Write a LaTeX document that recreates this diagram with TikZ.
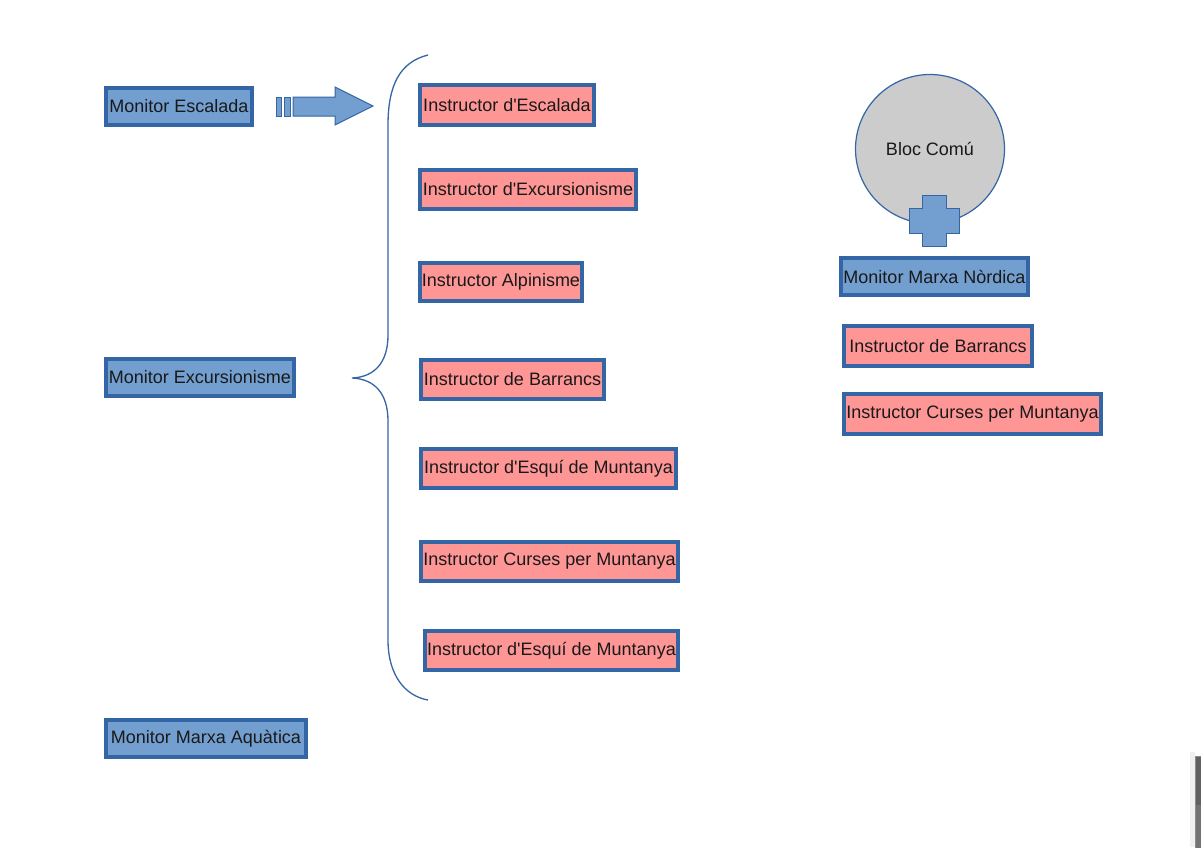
\documentclass[tikz,border=0pt]{standalone}
\usepackage{fontspec}
\setmainfont{Liberation Sans}
\definecolor{bfill}{HTML}{729FCF}
\definecolor{bline}{HTML}{3465A4}
\definecolor{pfill}{HTML}{FF9696}
\definecolor{cfill}{HTML}{CCCCCC}
\newcommand{\apo}{\textquotesingle}
\tikzset{
  box/.style={draw=bline, line width=4pt, inner sep=0pt, font=\fontsize{18}{20}\selectfont, text=black!90},
  bluebox/.style={box, fill=bfill},
  pinkbox/.style={box, fill=pfill},
  thinblue/.style={draw=bline, line width=1pt, fill=bfill},
}
\begin{document}
\begin{tikzpicture}[x=1pt,y=-1pt]
\useasboundingbox (0,0) rectangle (1201,847);
% left monitors
\node[bluebox, minimum width=146pt, minimum height=37pt] (me) at (179,106.5) {Monitor Escalada};
\node[bluebox, minimum width=188pt, minimum height=37pt] (mx) at (200,377.5) {Monitor Excursionisme};
\node[bluebox, minimum width=200pt, minimum height=37pt] (ma) at (206,738.5) {Monitor Marxa Aquàtica};
% arrow
\coordinate (arrowtip) at (373,106);
\filldraw[thinblue] (276,97) rectangle (281,116);
\filldraw[thinblue] (284,97) rectangle (290,116);
\filldraw[thinblue] (293,97) -- (335,97) -- (335,87) -- (arrowtip) -- (335,125) -- (335,116) -- (293,116) -- cycle;
% brace
\coordinate (btop) at (428,55);
\coordinate (btip) at (352,378);
\coordinate (bbot) at (428,700);
\draw[bline, line width=1.3pt] (btop) .. controls (400,62) and (388,85) .. (388,125)
  -- (388,335) .. controls (388,362) and (375,377) .. (btip)
  .. controls (375,379) and (388,394) .. (388,421)
  -- (388,640) .. controls (388,675) and (405,696) .. (bbot);
% pink instructors
\node[pinkbox, minimum width=174pt, minimum height=40pt] (i1) at (507,105) {Instructor d\apo Escalada};
\node[pinkbox, minimum width=216pt, minimum height=39pt] (i2) at (528,189.5) {Instructor d\apo Excursionisme};
\node[pinkbox, minimum width=162pt, minimum height=38pt] (i3) at (501,282) {Instructor Alpinisme};
\node[pinkbox, minimum width=183pt, minimum height=39pt] (i4) at (512.5,379.5) {Instructor de Barrancs};
\node[pinkbox, minimum width=255pt, minimum height=39pt] (i5) at (548.5,468.5) {Instructor d\apo Esquí de Muntanya};
\node[pinkbox, minimum width=257pt, minimum height=39pt] (i6) at (549.5,561.5) {Instructor Curses per Muntanya};
\node[pinkbox, minimum width=253pt, minimum height=39pt] (i7) at (551.5,650.5) {Instructor d\apo Esquí de Muntanya};
% right group
\node[circle, draw=bline, line width=1.2pt, fill=cfill, minimum size=149pt, inner sep=0pt, font=\fontsize{18}{20}\selectfont, text=black!90] (bc) at (930,149) {Bloc Comú};
\filldraw[thinblue] (922,195) -- (946,195) -- (946,208) -- (959,208) -- (959,233) -- (946,233) -- (946,246) -- (922,246) -- (922,233) -- (909,233) -- (909,208) -- (922,208) -- cycle;
\node[bluebox, minimum width=187pt, minimum height=37pt] (mn) at (934.5,276.5) {Monitor Marxa Nòrdica};
\node[pinkbox, minimum width=188pt, minimum height=40pt] (r1) at (938,346) {Instructor de Barrancs};
\node[pinkbox, minimum width=257pt, minimum height=40pt] (r2) at (972.5,414) {Instructor Curses per Muntanya};
% screen artifact
\fill[black!6] (1190,752) rectangle (1195,847);
\filldraw[draw=black!45, fill=black!55, line width=0.8pt] (1195.5,756) rectangle (1202,848);
\fill[black!62] (1196,756.5) rectangle (1202,805);
\end{tikzpicture}
\end{document}
